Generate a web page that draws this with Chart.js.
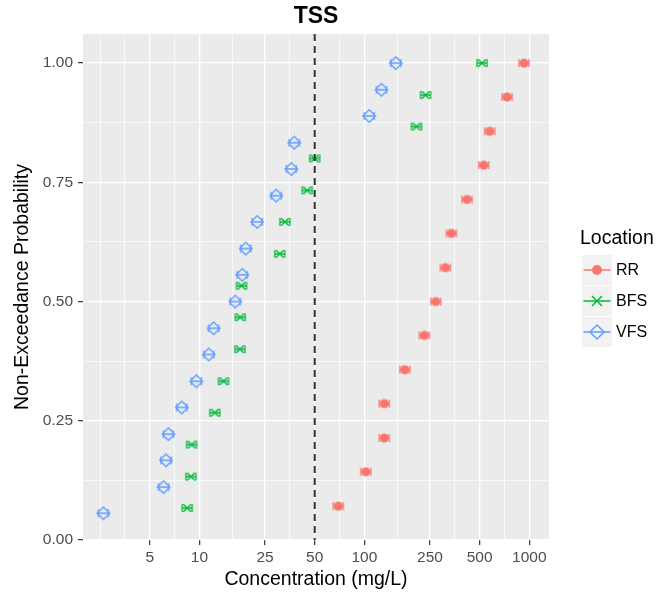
<!DOCTYPE html>
<html>
<head>
<meta charset="utf-8">
<script src="https://cdn.jsdelivr.net/npm/chart.js@4"></script>
<style>
  html, body { margin: 0; padding: 0; background: #ffffff; }
  #wrap { width: 656px; height: 595px; }
</style>
</head>
<body>
<div id="wrap"><canvas id="c" width="656" height="595"></canvas></div>
<script>
// ---------------- data ----------------
const seriesNames = ['RR', 'BFS', 'VFS'];
const rrConc  = [69.5, 102, 132, 132, 176, 231, 271, 310, 337, 419, 529, 575, 733, 929];
const rrProb  = [0.071, 0.143, 0.214, 0.286, 0.357, 0.429, 0.5, 0.571, 0.643, 0.714, 0.786, 0.857, 0.929, 1.0];
const bfsConc = [8.43, 8.88, 8.97, 12.4, 14.0, 17.6, 17.7, 18.0, 30.7, 33, 45, 50, 207, 235, 517];
const bfsProb = [0.067, 0.133, 0.2, 0.267, 0.333, 0.4, 0.467, 0.533, 0.6, 0.667, 0.733, 0.8, 0.867, 0.933, 1.0];
const vfsConc = [2.62, 6.07, 6.28, 6.49, 7.82, 9.58, 11.4, 12.2, 16.5, 18.2, 19.1, 22.4, 29.2, 36.1, 37.6, 107, 127, 155];
const vfsProb = [0.056, 0.111, 0.167, 0.222, 0.278, 0.333, 0.389, 0.444, 0.5, 0.556, 0.611, 0.667, 0.722, 0.778, 0.833, 0.889, 0.944, 1.0];
const xMajorTicks = [5, 10, 25, 50, 100, 250, 500, 1000];
const xMinorTicks = [2.5, 3.54, 7.07, 15.8, 35.4, 70.7, 158, 354, 707];
const yMajorTicks = [0, 0.25, 0.5, 0.75, 1.0];
const yMinorTicks = [0.125, 0.375, 0.625, 0.875];
const referenceLine = 50;
const chartTitle = 'TSS';
const xTitle = 'Concentration (mg/L)';
const yTitle = 'Non-Exceedance Probability';
const legendTitle = 'Location';

// ---------------- style ----------------
const FONT = '"Liberation Sans", Arial, Helvetica, sans-serif';
const colors = { RR: '#F8766D', BFS: '#00BA38', VFS: '#619CFF' };
const shapes = { RR: 'circle', BFS: 'cross', VFS: 'diamond' };

function drawShape(ctx, kind, cx, cy, s, color, lw) {
  ctx.save();
  ctx.strokeStyle = color; ctx.fillStyle = color; ctx.lineWidth = lw;
  if (kind === 'circle') {
    ctx.beginPath(); ctx.arc(cx, cy, s, 0, Math.PI * 2); ctx.fill();
  } else if (kind === 'cross') {
    ctx.beginPath();
    ctx.moveTo(cx - s, cy - s); ctx.lineTo(cx + s, cy + s);
    ctx.moveTo(cx + s, cy - s); ctx.lineTo(cx - s, cy + s);
    ctx.stroke();
  } else {
    ctx.beginPath();
    ctx.moveTo(cx, cy - s); ctx.lineTo(cx + s, cy); ctx.lineTo(cx, cy + s); ctx.lineTo(cx - s, cy);
    ctx.closePath(); ctx.stroke();
  }
  ctx.restore();
}

function makeMarker(name) {
  const cv = document.createElement('canvas');
  cv.width = 18; cv.height = 16;
  const g = cv.getContext('2d');
  const cx = 9, cy = 8, color = colors[name];
  g.strokeStyle = color; g.lineWidth = 1.3;
  // horizontal error bar with caps
  g.beginPath();
  g.moveTo(cx - 5, cy); g.lineTo(cx + 5, cy);
  g.moveTo(cx - 5, cy - 4); g.lineTo(cx - 5, cy + 4);
  g.moveTo(cx + 5, cy - 4); g.lineTo(cx + 5, cy + 4);
  g.stroke();
  const kind = shapes[name];
  if (kind === 'circle') drawShape(g, kind, cx, cy, 4.5, color, 1.3);
  else if (kind === 'cross') drawShape(g, kind, cx, cy, 3.8, color, 1.4);
  else drawShape(g, kind, cx, cy, 6.3, color, 1.3);
  return cv;
}

function toPoints(xs, ys) { return xs.map((x, i) => ({ x: x, y: ys[i] })); }

const seriesData = {
  RR: toPoints(rrConc, rrProb),
  BFS: toPoints(bfsConc, bfsProb),
  VFS: toPoints(vfsConc, vfsProb)
};

const datasets = seriesNames.map(n => ({
  label: n,
  data: seriesData[n],
  pointStyle: makeMarker(n),
  pointRadius: 6,
  pointHoverRadius: 6,
  borderColor: colors[n],
  backgroundColor: colors[n],
  showLine: false
}));

// panel background
const panelBg = {
  id: 'panelBg',
  beforeDraw(chart) {
    const { ctx, chartArea: a } = chart;
    ctx.save();
    ctx.fillStyle = '#EBEBEB';
    ctx.fillRect(a.left, a.top, a.right - a.left, a.bottom - a.top);
    ctx.restore();
  }
};

// dashed reference line + title + legend
const overlay = {
  id: 'overlay',
  afterDatasetsDraw(chart) {
    const { ctx, chartArea: a, scales } = chart;
    const x = scales.x.getPixelForValue(referenceLine);
    ctx.save();
    ctx.strokeStyle = '#333333';
    ctx.lineWidth = 2;
    ctx.setLineDash([7, 5]);
    ctx.beginPath(); ctx.moveTo(x, a.top); ctx.lineTo(x, a.bottom); ctx.stroke();
    ctx.restore();
  },
  afterDraw(chart) {
    const { ctx, chartArea: a } = chart;
    ctx.save();
    // title
    ctx.fillStyle = '#000000';
    ctx.font = 'bold 23px ' + FONT;
    ctx.textAlign = 'center'; ctx.textBaseline = 'middle';
    ctx.fillText(chartTitle, (a.left + a.right) / 2, 17);
    // legend
    ctx.textAlign = 'left';
    ctx.font = '19.5px ' + FONT;
    ctx.fillText(legendTitle, 580, 239);
    seriesNames.forEach((n, i) => {
      const top = 255 + i * 31;
      const cy = top + 15;
      ctx.fillStyle = '#F2F2F2';
      ctx.fillRect(582, top, 30, 30);
      ctx.strokeStyle = colors[n]; ctx.lineWidth = 1.5;
      ctx.beginPath(); ctx.moveTo(583.5, cy); ctx.lineTo(610.5, cy); ctx.stroke();
      const kind = shapes[n];
      if (kind === 'circle') drawShape(ctx, kind, 597, cy, 5, colors[n], 1.5);
      else if (kind === 'cross') drawShape(ctx, kind, 597, cy, 5, colors[n], 1.5);
      else drawShape(ctx, kind, 597, cy, 7, colors[n], 1.5);
      ctx.fillStyle = '#000000';
      ctx.font = '16px ' + FONT;
      ctx.fillText(n, 616, cy + 1);
    });
    ctx.restore();
  }
};

const isMajorX = v => xMajorTicks.indexOf(v) !== -1;
const isMajorY = v => yMajorTicks.indexOf(v) !== -1;

new Chart(document.getElementById('c'), {
  type: 'scatter',
  data: { datasets: datasets },
  options: {
    responsive: false,
    animation: false,
    devicePixelRatio: 1,
    layout: { padding: { top: 34, right: 107, left: 0, bottom: 0 } },
    plugins: {
      legend: { display: false },
      title: { display: false },
      tooltip: { enabled: false }
    },
    scales: {
      x: {
        type: 'logarithmic',
        min: 1.97,
        max: 1316,
        afterFit(scale) { scale.height = 55; },
        afterBuildTicks(scale) {
          scale.ticks = xMinorTicks.concat(xMajorTicks).sort((a, b) => a - b).map(v => ({ value: v }));
        },
        border: { display: false },
        grid: {
          color: '#FFFFFF',
          lineWidth: ctx => (ctx.tick && isMajorX(ctx.tick.value)) ? 1.3 : 0.7,
          drawTicks: true,
          tickLength: 5,
          tickWidth: 1.2,
          tickColor: ctx => (ctx.tick && isMajorX(ctx.tick.value)) ? '#333333' : 'rgba(0,0,0,0)'
        },
        ticks: {
          autoSkip: false,
          maxRotation: 0,
          padding: 3,
          color: '#4D4D4D',
          font: { family: FONT, size: 15.5 },
          callback: v => isMajorX(v) ? String(v) : ''
        },
        title: {
          display: true,
          text: xTitle,
          color: '#000000',
          font: { family: FONT, size: 19.5 },
          padding: { top: 0, bottom: 4 }
        }
      },
      y: {
        type: 'linear',
        min: 0,
        max: 1.061,
        afterFit(scale) { scale.width = 83; },
        afterBuildTicks(scale) {
          scale.ticks = yMajorTicks.concat(yMinorTicks).sort((a, b) => a - b).map(v => ({ value: v }));
        },
        border: { display: false },
        grid: {
          color: '#FFFFFF',
          lineWidth: ctx => (ctx.tick && isMajorY(ctx.tick.value)) ? 1.3 : 0.7,
          drawTicks: true,
          tickLength: 5,
          tickWidth: 1.2,
          tickColor: ctx => (ctx.tick && isMajorY(ctx.tick.value)) ? '#333333' : 'rgba(0,0,0,0)'
        },
        ticks: {
          autoSkip: false,
          padding: 5,
          color: '#4D4D4D',
          font: { family: FONT, size: 15.5 },
          callback: v => isMajorY(v) ? v.toFixed(2) : ''
        },
        title: {
          display: true,
          text: yTitle,
          color: '#000000',
          font: { family: FONT, size: 19.5 },
          padding: { top: 11, bottom: 0 }
        }
      }
    }
  },
  plugins: [panelBg, overlay]
});
</script>
</body>
</html>
